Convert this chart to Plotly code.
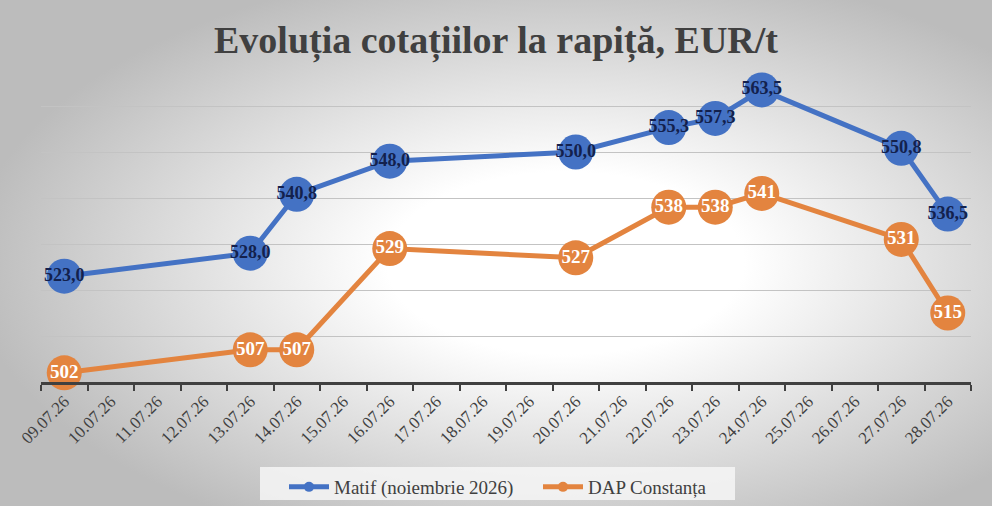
import base64
import plotly.graph_objects as go

categories = ["09.07.26", "10.07.26", "11.07.26", "12.07.26", "13.07.26", "14.07.26",
              "15.07.26", "16.07.26", "17.07.26", "18.07.26", "19.07.26", "20.07.26",
              "21.07.26", "22.07.26", "23.07.26", "24.07.26", "25.07.26", "26.07.26",
              "27.07.26", "28.07.26"]
point_dates = ["09.07.26", "13.07.26", "14.07.26", "16.07.26", "20.07.26",
               "22.07.26", "23.07.26", "24.07.26", "27.07.26", "28.07.26"]
matif = [523.0, 528.0, 540.8, 548.0, 550.0, 555.3, 557.3, 563.5, 550.8, 536.5]
dap = [502, 507, 507, 529, 527, 538, 538, 541, 531, 515]
series_names = ["Matif (noiembrie 2026)", "DAP Constanța"]
title_text = "Evoluția cotațiilor la rapiță, EUR/t"

BLUE = "#4472C4"
ORANGE = "#E3843F"
SERIF = "Liberation Serif, Times New Roman, serif"

W, H = 992, 506
ML, MR, MT, MB = 41, 21, 60, 124
plot_w = W - ML - MR
plot_h = H - MT - MB


def px_x(p):
    return (p - ML) / plot_w


def px_y(p):
    return (H - MB - p) / plot_h


svg = (
    '<svg xmlns="http://www.w3.org/2000/svg" width="992" height="506" viewBox="0 0 992 506" preserveAspectRatio="none">'
    '<defs><radialGradient id="g" cx="0.57" cy="0.52" r="0.6">'
    '<stop offset="0" stop-color="#ffffff"/>'
    '<stop offset="0.3" stop-color="#ffffff"/>'
    '<stop offset="1" stop-color="#bcbcbc"/>'
    '</radialGradient></defs>'
    '<rect x="0" y="0" width="992" height="506" fill="url(#g)"/>'
    '</svg>'
)
bg_src = "data:image/svg+xml;base64," + base64.b64encode(svg.encode()).decode()

fig = go.Figure()
series = [
    (series_names[0], matif, BLUE, [f"{v:.1f}".replace(".", ",") for v in matif], 18, "#13214d"),
    (series_names[1], dap, ORANGE, [str(v) for v in dap], 19, "#ffffff"),
]
for name, vals, color, labels, fsize, fcolor in series:
    fig.add_trace(go.Scatter(
        x=point_dates, y=vals, name=name, showlegend=False,
        mode="lines+markers+text",
        line=dict(color=color, width=5),
        marker=dict(color=color, size=35),
        text=labels,
        textposition="middle center",
        textfont=dict(family=SERIF, size=fsize, color=fcolor, weight="bold"),
        cliponaxis=False,
    ))
# legend entries (small symbols like the reference)
for name, vals, color, labels, fsize, fcolor in series:
    fig.add_trace(go.Scatter(
        x=[None], y=[None], name=name, showlegend=True,
        mode="lines+markers",
        line=dict(color=color, width=5),
        marker=dict(color=color, size=10),
    ))

fig.update_layout(
    width=W, height=H,
    margin=dict(l=ML, r=MR, t=MT, b=MB),
    paper_bgcolor="#e6e6e6",
    plot_bgcolor="rgba(0,0,0,0)",
    images=[dict(source=bg_src, xref="paper", yref="paper",
                 x=-ML / plot_w, y=1 + MT / plot_h, sizex=W / plot_w, sizey=H / plot_h,
                 xanchor="left", yanchor="top", sizing="stretch", layer="below")],
    shapes=[dict(type="rect", xref="paper", yref="paper", layer="below",
                 x0=px_x(260), x1=px_x(735), y0=px_y(500), y1=px_y(467),
                 fillcolor="rgba(246,246,246,0.85)", line=dict(width=0))],
    title=dict(text=title_text, x=0.5, xanchor="center", yref="container",
               y=1 - 40 / H, yanchor="middle",
               font=dict(family=SERIF, size=38, color="#404040", weight="bold")),
    showlegend=True,
    legend=dict(orientation="h", x=px_x(284), xanchor="left", yref="container",
                y=(H - 487) / H, yanchor="middle",
                bgcolor="rgba(0,0,0,0)", borderwidth=0,
                font=dict(family=SERIF, size=19, color="#404040"),
                itemwidth=40, entrywidth=199),
    xaxis=dict(type="category", categoryorder="array", categoryarray=categories,
               tickvals=categories, range=[-0.5, 19.5],
               tickson="boundaries", ticks="outside", ticklen=6, tickwidth=2,
               tickcolor="#404040", showline=True, linecolor="#404040", linewidth=2.5,
               showgrid=False, tickangle=-45,
               tickfont=dict(family=SERIF, size=17, color="#404040")),
    yaxis=dict(range=[500, 570], tickvals=[510, 520, 530, 540, 550, 560],
               showticklabels=False, showgrid=True, gridcolor="#c3c3c3", gridwidth=1,
               zeroline=False, showline=False, ticks=""),
)

fig.write_html(
    "out.html",
    config={"displayModeBar": False},
    post_script="document.body.style.margin='0';document.body.style.padding='0';"
                "document.body.style.overflow='hidden';",
)
